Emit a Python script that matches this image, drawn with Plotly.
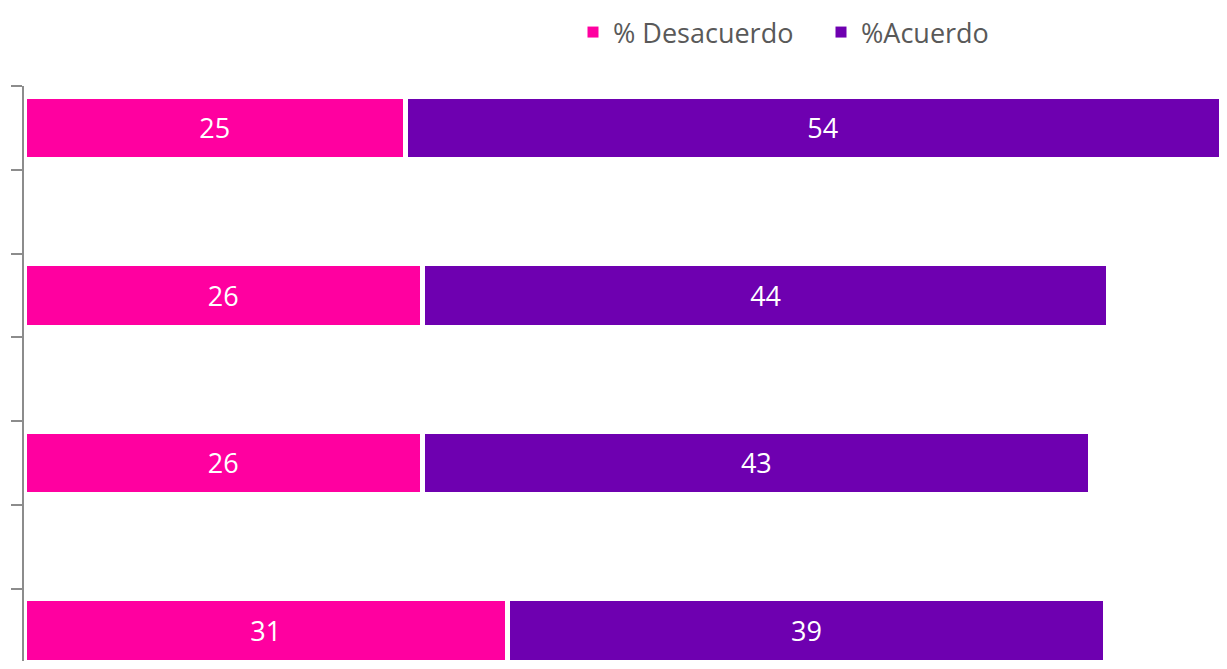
import plotly.graph_objects as go

# Data
series_names = ["% Desacuerdo", "%Acuerdo"]
desacuerdo = [24.7, 25.8, 25.8, 31.3]
acuerdo = [54.0, 44.4, 43.2, 38.7]
colors = ["#FF00A0", "#6E00B0"]

# category slots: bars on every other slot (empty slots in between)
slots = [2 * i for i in range(len(desacuerdo))]

FIG_W, FIG_H = 1211, 653   # page adds 8px body margin around the figure
L, T = 16, 78
PX_PER_UNIT = 15.45
PX_PER_SLOT = 83.75

fig = go.Figure()
for name, vals, col in zip(series_names, [desacuerdo, acuerdo], colors):
    fig.add_trace(go.Bar(
        x=vals, y=slots, orientation="h", name=name,
        marker=dict(color=col, line=dict(color="white", width=5)),
        width=0.76,
        text=[f"{v:.0f}" for v in vals],
        textposition="inside", insidetextanchor="middle",
        textfont=dict(color="white", size=27, family="Open Sans"),
        cliponaxis=True, showlegend=False,
    ))
    # legend proxy with a square swatch
    fig.add_trace(go.Scatter(
        x=[None], y=[None], mode="markers", name=name,
        marker=dict(symbol="square", size=11, color=col),
        showlegend=True,
    ))

plot_w = FIG_W - L
plot_h = FIG_H - T

fig.update_layout(
    width=FIG_W, height=FIG_H,
    barmode="stack",
    plot_bgcolor="white", paper_bgcolor="white",
    margin=dict(l=L, r=0, t=T, b=0, autoexpand=False),
    font=dict(family="Open Sans", color="#595959"),
    uniformtext=dict(mode="show", minsize=10),
    showlegend=True,
    legend=dict(
        orientation="h", x=(565 - L) / plot_w, xanchor="left",
        y=1 + T / plot_h, yref="paper", yanchor="top",
        font=dict(size=27, family="Open Sans", color="#595959"),
        entrywidth=203, entrywidthmode="pixels", traceorder="normal",
        bgcolor="rgba(0,0,0,0)", itemwidth=30,
    ),
    xaxis=dict(visible=False, range=[0, plot_w / PX_PER_UNIT], fixedrange=True,
               automargin=False),
    yaxis=dict(
        range=[-0.5 + plot_h / PX_PER_SLOT, -0.5],
        automargin=False,
        tickmode="array",
        tickvals=[k - 0.5 for k in range(8)],
        showticklabels=False,
        ticks="outside", ticklen=11, tickcolor="#8C8C8C", tickwidth=1.5,
        showline=True, linecolor="#8C8C8C", linewidth=1.5,
        showgrid=False, zeroline=False,
    ),
)

fig.write_html("out.html")
